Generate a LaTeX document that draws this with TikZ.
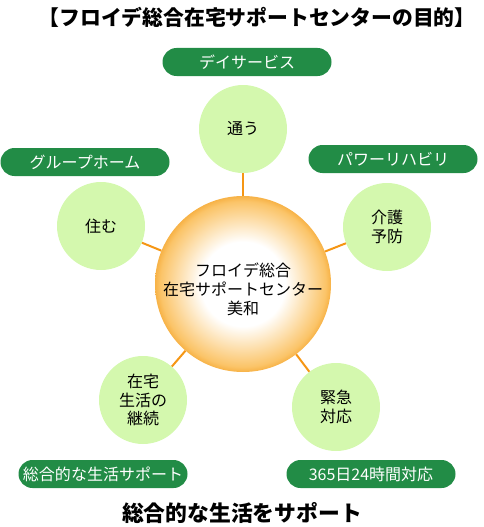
\documentclass[tikz,border=0pt]{standalone}
\usepackage{fontspec}
\setmainfont{Noto Sans CJK JP}
\usetikzlibrary{positioning}
\definecolor{pillgreen}{RGB}{34,140,70}
\definecolor{leafgreen}{RGB}{212,248,174}
\definecolor{linkorange}{RGB}{245,150,20}
\definecolor{glow}{RGB}{251,196,104}
\definecolor{glowrim}{RGB}{247,178,70}
\pgfdeclareradialshading{hubglow}{\pgfpoint{0bp}{0bp}}{color(0bp)=(white); color(12bp)=(white); color(23.5bp)=(glow); color(25bp)=(glowrim); color(50bp)=(glowrim)}

\begin{document}
\begin{tikzpicture}[x=1pt, y=-1pt,
    pill/.style={fill=pillgreen, text=white, rounded corners=14pt, minimum width=169pt, minimum height=28pt, inner sep=0pt, font=\fontsize{16}{18}\selectfont},
    bubble/.style={circle, fill=leafgreen, minimum size=88pt, inner sep=0pt, align=center, font=\fontsize{16}{18.5}\selectfont},
    link/.style={linkorange, line width=2pt}]
        \useasboundingbox (0,0) rectangle (484,527);
        \node[font=\bfseries\fontsize{20.8}{24}\selectfont] (title) at (257,17) {【フロイデ総合在宅サポートセンターの目的】};
        \node[circle, shading=hubglow, minimum size=176pt, inner sep=0pt] (hub) at (243,284) {};
        \node[align=center, font=\fontsize{16}{19}\selectfont] (hubname) at ([yshift=-5pt]hub.center) {フロイデ総合\\在宅サポートセンター\\美和};
        \node[bubble] (kayou) at (243,129) {通う};
        \node[bubble] (sumu) at (101,226) {住む};
        \node[bubble] (kaigo) at (387,227) {介護\\予防};
        \node[bubble] (zaitaku) at (143,400) {在宅\\生活の\\継続};
        \node[bubble] (kinkyu) at (336,407) {緊急\\対応};
        \node[pill] (day) at (247,62) {デイサービス};
        \node[pill] (group) at (85,162) {グループホーム};
        \node[pill] (reha) at (393,159) {パワーリハビリ};
        \node[pill] (life) at (103,474) {総合的な生活サポート};
        \node[pill] (allday) at (371,474) {365日24時間対応};
        \node[font=\bfseries\fontsize{21.8}{24}\selectfont] (motto) at (242,513) {総合的な生活をサポート};
        \foreach \n in {kayou,sumu,kaigo,zaitaku,kinkyu}
            \draw[link] (hub) -- (\n);
    \end{tikzpicture}
\end{document}
